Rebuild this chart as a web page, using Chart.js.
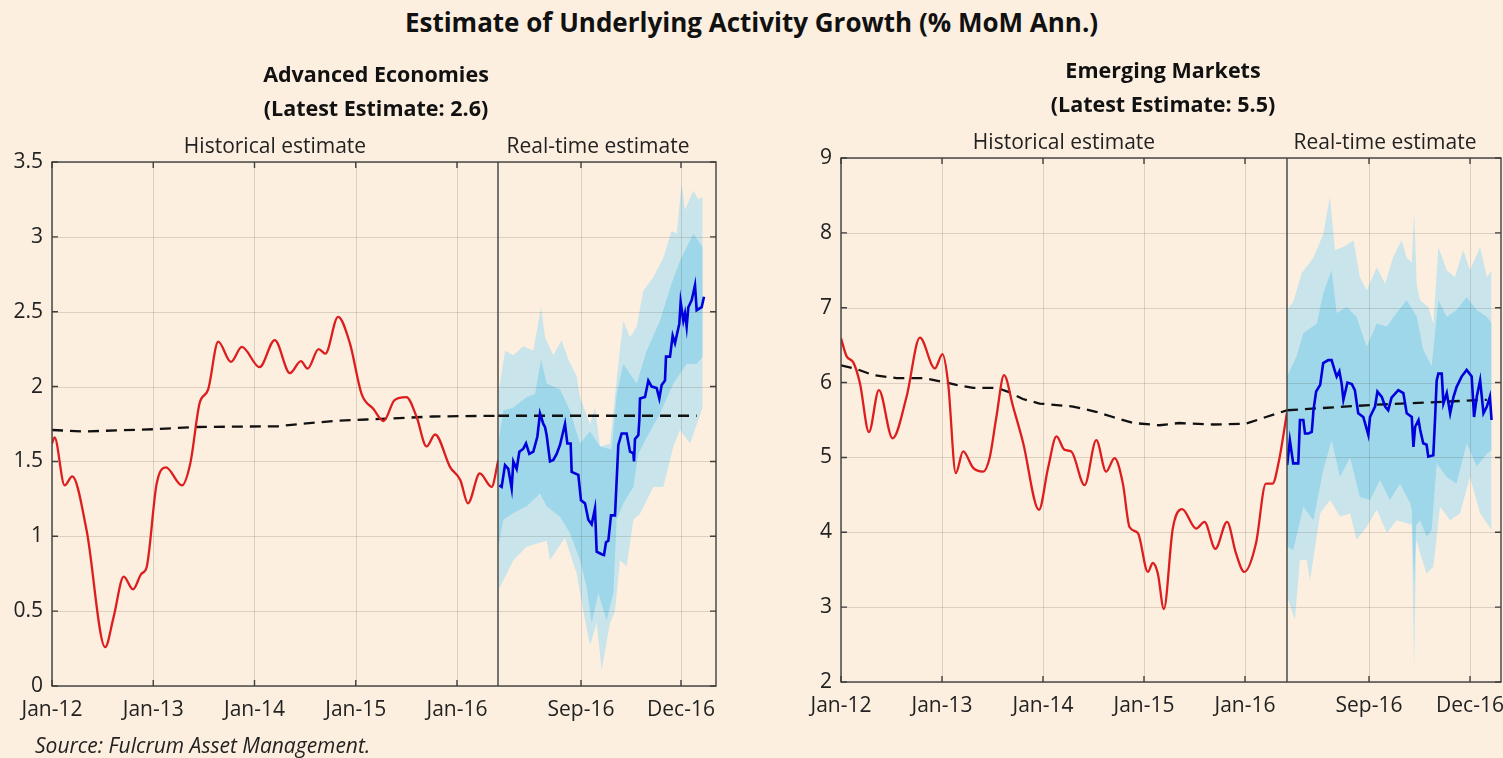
<!DOCTYPE html>
<html>
<head>
<meta charset="utf-8">
<title>Estimate of Underlying Activity Growth</title>
<script src="https://cdn.jsdelivr.net/npm/chart.js@4.4.1/dist/chart.umd.min.js"></script>
<style>
  html, body { margin: 0; padding: 0; background: #FCEFDF; }
  #page { position: relative; width: 1503px; height: 758px; overflow: hidden; background: #FCEFDF;
          font-family: "Open Sans", Lato, "Liberation Sans", sans-serif; color: #111; }
  #mainTitle { position: absolute; left: 0; top: 5px; width: 1503px; text-align: center;
               font-weight: bold; font-size: 26px; line-height: 34px; }
  #source { position: absolute; left: 35px; top: 731px; font-style: italic; font-size: 21px; line-height: 28px; color: #222; }
  canvas { position: absolute; top: 0; }
  #aeChart { left: 0; }
  #emChart { left: 750px; }
</style>
</head>
<body>
<div id="page">
  <div id="mainTitle">Estimate of Underlying Activity Growth (% MoM Ann.)</div>
  <canvas id="aeChart" width="750" height="758"></canvas>
  <canvas id="emChart" width="753" height="758"></canvas>
  <div id="source">Source: Fulcrum Asset Management.</div>
</div>
<script>
// ---------------------------------------------------------------------------
// Data. Historical x = months since Jan-2012; real-time x = months since Jan-2016.
// ---------------------------------------------------------------------------
const histTickMonths = [0, 12, 24, 36, 48];
const histTickLabels = ['Jan-12', 'Jan-13', 'Jan-14', 'Jan-15', 'Jan-16'];
const rtTickMonths = [8, 11];
const rtTickLabels = ['Sep-16', 'Dec-16'];

// Advanced Economies
const aeHist = [[0,1.62],[0.3,1.66],[1.5,1.34],[2.4,1.40],[4.1,1.04],[6.3,0.26],[7.3,0.46],[8.5,0.73],
  [9.6,0.645],[10.6,0.75],[11.2,0.79],[12.4,1.35],[13.5,1.46],[15.4,1.34],[16.4,1.49],[17.5,1.89],
  [18.5,1.98],[19.7,2.30],[21.2,2.165],[22.5,2.265],[24.6,2.13],[26.4,2.31],[28.2,2.09],[29.5,2.17],
  [30.3,2.12],[31.6,2.25],[32.4,2.22],[33.9,2.465],[35.3,2.29],[36.7,1.95],[38.1,1.85],[39.3,1.77],
  [40.6,1.91],[42.0,1.93],[43.2,1.80],[44.4,1.60],[45.4,1.68],[47.2,1.46],[48.4,1.375],[49.3,1.22],
  [50.7,1.42],[52.1,1.33],[52.9,1.51]];
const aeTrend = [[0,1.71],[3.7,1.70],[12,1.715],[17,1.73],[26.8,1.735],[29.4,1.75],[33.3,1.77],
  [37.3,1.78],[45.2,1.80],[52.9,1.805]];
const aeTrendRt = [[5.51,1.805],[11.47,1.805]];
const aeRealTime = [[5.55,1.34],[5.62,1.33],[5.72,1.475],[5.82,1.45],[5.92,1.32],[5.97,1.50],[6.07,1.45],
  [6.15,1.565],[6.27,1.585],[6.35,1.62],[6.45,1.55],[6.57,1.565],[6.69,1.665],[6.77,1.82],[6.87,1.75],
  [6.92,1.73],[6.97,1.675],[7.07,1.50],[7.17,1.51],[7.27,1.55],[7.37,1.61],[7.52,1.75],[7.59,1.62],
  [7.69,1.62],[7.72,1.43],[7.92,1.41],[8.00,1.24],[8.12,1.22],[8.22,1.11],[8.32,1.08],[8.42,1.186],
  [8.47,0.897],[8.62,0.88],[8.69,0.875],[8.75,0.96],[8.82,0.97],[8.90,1.14],[9.02,1.14],[9.12,1.61],
  [9.22,1.687],[9.37,1.687],[9.47,1.565],[9.57,1.555],[9.59,1.50],[9.62,1.65],[9.72,1.675],[9.75,1.775],
  [9.77,1.92],[9.92,1.93],[10.02,2.04],[10.12,2.00],[10.27,1.99],[10.35,1.92],[10.42,2.01],[10.52,2.04],
  [10.55,2.20],[10.67,2.20],[10.75,2.34],[10.82,2.29],[10.95,2.42],[10.99,2.565],[11.07,2.44],[11.12,2.49],
  [11.17,2.40],[11.22,2.53],[11.32,2.577],[11.42,2.677],[11.47,2.51],[11.62,2.53],[11.69,2.6]];
const aeOuterHi = [[5.52,1.95],[5.72,2.24],[5.97,2.21],[6.27,2.27],[6.57,2.24],[6.80,2.53],[6.92,2.33],
  [7.17,2.21],[7.42,2.31],[7.62,2.18],[7.87,2.07],[7.97,1.93],[8.27,1.75],[8.42,1.86],[8.57,1.60],
  [8.87,1.62],[9.12,2.15],[9.27,2.44],[9.47,2.33],[9.67,2.40],[9.87,2.64],[10.17,2.73],[10.47,2.86],
  [10.72,3.04],[10.87,3.02],[11.02,3.36],[11.12,3.18],[11.37,3.31],[11.52,3.25],[11.65,3.27]];
const aeInnerHi = [[5.52,1.62],[5.67,1.84],[5.97,1.86],[6.37,1.93],[6.62,1.95],[6.80,2.18],[6.97,2.02],
  [7.37,1.98],[7.67,1.84],[7.97,1.62],[8.27,1.70],[8.57,1.60],[8.92,1.58],[9.07,1.95],[9.27,2.15],
  [9.67,2.02],[9.97,2.24],[10.37,2.44],[10.72,2.69],[10.97,2.84],[11.37,3.02],[11.65,2.93]];
const aeInnerLo = [[5.52,0.93],[5.67,1.11],[5.97,1.155],[6.37,1.20],[6.77,1.286],[6.97,1.20],[7.37,1.13],
  [7.67,1.02],[7.97,0.84],[8.17,0.66],[8.32,0.42],[8.52,0.62],[8.77,0.44],[8.97,0.62],[9.07,1.11],
  [9.27,1.22],[9.57,1.33],[9.72,1.55],[9.97,1.66],[10.37,1.82],[10.77,2.02],[11.17,2.15],[11.47,2.15],[11.65,2.2]];
const aeOuterLo = [[5.52,0.64],[5.77,0.75],[5.97,0.84],[6.37,0.93],[6.97,0.97],[7.07,0.84],[7.52,0.99],
  [7.87,0.75],[8.07,0.50],[8.27,0.27],[8.47,0.42],[8.62,0.107],[8.87,0.42],[9.02,0.50],[9.17,0.84],
  [9.37,0.80],[9.57,1.11],[9.77,1.15],[10.17,1.33],[10.47,1.33],[10.77,1.60],[10.97,1.71],[11.27,1.62],[11.65,1.86]];

// Emerging Markets
const emHist = [[0,6.59],[0.67,6.35],[1.46,6.27],[2.25,5.99],[3.32,5.34],[4.5,5.90],[6.13,5.255],[7.79,5.81],
  [9.37,6.60],[11.15,6.19],[12.06,6.38],[12.73,5.99],[13.64,4.79],[14.51,5.08],[15.7,4.86],[16.88,4.81],
  [17.67,5.0],[18.46,5.54],[19.37,6.10],[20.44,5.68],[21.63,5.2],[23.52,4.30],[24.6,4.86],[25.6,5.28],
  [26.57,5.10],[27.36,5.08],[28.94,4.63],[30.33,5.23],[31.5,4.81],[32.5,4.99],[33.49,4.65],[34.28,4.07],
  [35.27,3.99],[36.46,3.47],[37.05,3.59],[37.64,3.45],[38.36,2.975],[39.42,4.05],[40.53,4.31],[42.19,4.05],
  [43.18,4.14],[44.48,3.78],[45.87,4.14],[46.92,3.72],[47.91,3.47],[49.3,3.85],[50.48,4.65],[51.27,4.65],
  [52.06,4.97],[52.99,5.6]];
const emTrend = [[0,6.23],[1.86,6.18],[3.83,6.10],[6.6,6.06],[9.76,6.06],[12.1,6.01],[13.7,5.97],[15.7,5.93],
  [18.5,5.93],[20.05,5.87],[21.6,5.78],[23.6,5.72],[27.56,5.68],[30.3,5.61],[32.3,5.54],[34.7,5.46],
  [37.84,5.43],[40.2,5.46],[44.2,5.44],[48.1,5.45],[50.5,5.54],[52.99,5.63]];
const emTrendRt = [[5.565,5.63],[8.03,5.70],[10.01,5.74],[11.5,5.77]];
const emRealTime = [[5.57,4.90],[5.65,5.23],[5.75,4.92],[5.90,4.92],[5.95,5.5],[6.05,5.5],[6.10,5.32],
  [6.20,5.32],[6.30,5.34],[6.33,5.5],[6.35,5.63],[6.43,5.88],[6.55,5.97],[6.64,6.26],[6.79,6.30],[6.89,6.30],
  [6.99,6.15],[7.04,6.08],[7.12,6.15],[7.19,5.98],[7.24,5.77],[7.36,6.0],[7.49,5.98],[7.58,5.9],[7.68,5.59],
  [7.83,5.54],[7.98,5.30],[8.03,5.54],[8.18,5.68],[8.25,5.88],[8.38,5.81],[8.48,5.68],[8.57,5.63],[8.67,5.8],
  [8.87,5.9],[9.02,5.86],[9.12,5.59],[9.27,5.54],[9.32,5.14],[9.37,5.41],[9.47,5.5],[9.52,5.37],[9.61,5.19],
  [9.71,5.17],[9.76,5.01],[9.91,5.03],[9.96,5.5],[10.01,6.03],[10.06,6.12],[10.16,6.12],[10.21,5.72],
  [10.31,5.86],[10.41,5.59],[10.51,5.81],[10.60,5.94],[10.75,6.08],[10.90,6.17],[11.05,6.08],[11.12,5.54],
  [11.20,5.81],[11.30,6.03],[11.40,5.59],[11.50,5.68],[11.59,5.81],[11.64,5.5]];
const emOuterHi = [[5.57,6.97],[5.75,7.08],[6.00,7.46],[6.35,7.67],[6.64,7.98],[6.84,8.48],[6.99,7.77],
  [7.24,7.81],[7.54,7.9],[7.73,7.41],[7.93,7.23],[8.23,7.54],[8.48,7.32],[8.72,7.68],[8.97,7.9],[9.12,7.67],
  [9.27,7.6],[9.34,8.29],[9.42,7.3],[9.52,7.1],[9.76,7.01],[9.91,6.79],[10.06,7.81],[10.31,7.5],[10.55,7.41],
  [10.80,7.77],[11.00,7.5],[11.30,7.81],[11.50,7.41],[11.64,7.5]];
const emInnerHi = [[5.57,6.08],[5.85,6.35],[6.05,6.66],[6.45,6.79],[6.64,7.19],[6.89,7.5],[7.04,6.93],
  [7.34,7.01],[7.63,6.88],[7.93,6.48],[8.23,6.79],[8.53,6.75],[8.82,6.93],[9.12,7.1],[9.42,6.88],[9.61,6.44],
  [9.86,6.22],[10.06,7.1],[10.31,6.88],[10.60,6.97],[10.90,7.14],[11.20,6.97],[11.50,6.88],[11.64,6.79]];
const emInnerLo = [[5.57,3.81],[5.75,3.76],[6.05,4.34],[6.35,4.16],[6.64,4.83],[6.89,5.23],[7.14,4.74],
  [7.44,5.0],[7.73,4.47],[8.03,4.43],[8.33,4.70],[8.62,4.43],[8.92,4.65],[9.22,4.39],[9.27,4.3],[9.34,3.27],
  [9.40,4.1],[9.52,4.16],[9.71,3.94],[9.86,4.03],[10.01,4.92],[10.31,4.74],[10.60,4.65],[10.90,5.19],
  [11.20,4.88],[11.50,5.05],[11.64,5.1]];
const emOuterLo = [[5.57,3.14],[5.80,2.83],[5.95,3.63],[6.15,3.63],[6.25,3.36],[6.55,4.25],[6.84,4.43],
  [7.14,4.21],[7.44,4.25],[7.63,3.9],[7.93,4.07],[8.23,4.3],[8.53,3.99],[8.82,4.16],[9.12,4.12],[9.27,4.1],
  [9.34,2.16],[9.40,3.9],[9.52,3.72],[9.71,3.45],[9.91,3.54],[10.11,4.34],[10.41,4.16],[10.70,4.25],
  [11.00,4.74],[11.30,4.25],[11.50,4.12],[11.64,4.03]];

// ---------------------------------------------------------------------------
// Styling
// ---------------------------------------------------------------------------
const FONT = '"Open Sans", Lato, "Liberation Sans", sans-serif';
const RED = '#DC1E1E';
const BLUE = '#0000DD';
const OUTER_BAND = '#C9E5EB';
const INNER_BAND = '#9DD7E9';
const GRID = 'rgba(70,60,50,0.17)';
const FRAME = '#3f3f3f';

const pts = arr => arr.map(([x, y]) => ({x, y}));

// Grid drawn after the band fills so the lines stay visible through the shading;
// frame, divider and inward ticks drawn after the series.
const panelDecor = {
  id: 'panelDecor',
  beforeDatasetsDraw(chart) {
    const {ctx, chartArea: a, scales} = chart;
    ctx.save();
    ctx.strokeStyle = GRID;
    ctx.lineWidth = 1;
    ctx.beginPath();
    for (const id of ['xh', 'xr']) {
      const s = scales[id];
      for (const t of s.ticks) {
        const x = Math.round(s.getPixelForValue(t.value)) + 0.5;
        ctx.moveTo(x, a.top); ctx.lineTo(x, a.bottom);
      }
    }
    const y = scales.y;
    for (const t of y.ticks) {
      const py = Math.round(y.getPixelForValue(t.value)) + 0.5;
      ctx.moveTo(a.left, py); ctx.lineTo(a.right, py);
    }
    ctx.stroke();
    ctx.restore();
  },
  afterDatasetsDraw(chart) {
    const {ctx, chartArea: a, scales} = chart;
    const tl = 6;
    ctx.save();
    ctx.strokeStyle = FRAME;
    ctx.lineWidth = 1.4;
    ctx.strokeRect(a.left, a.top, a.right - a.left, a.bottom - a.top);
    ctx.beginPath();
    const divX = scales.xr.left;
    ctx.moveTo(divX, a.top); ctx.lineTo(divX, a.bottom);
    for (const id of ['xh', 'xr']) {
      const s = scales[id];
      for (const t of s.ticks) {
        const x = s.getPixelForValue(t.value);
        ctx.moveTo(x, a.bottom); ctx.lineTo(x, a.bottom - tl);
        ctx.moveTo(x, a.top); ctx.lineTo(x, a.top + tl);
      }
    }
    const y = scales.y;
    for (const t of y.ticks) {
      const py = y.getPixelForValue(t.value);
      ctx.moveTo(a.left, py); ctx.lineTo(a.left + tl, py);
      ctx.moveTo(a.right, py); ctx.lineTo(a.right - tl, py);
    }
    ctx.stroke();
    ctx.restore();
  },
  afterDraw(chart, args, opts) {
    const {ctx, chartArea: a, scales} = chart;
    ctx.save();
    ctx.fillStyle = '#111';
    ctx.textAlign = 'center';
    ctx.textBaseline = 'middle';
    const cx = (a.left + a.right) / 2 - 8;
    ctx.font = 'bold 21.5px ' + FONT;
    ctx.fillText(opts.heading, cx, a.top - 86);
    ctx.fillText(opts.latest, cx, a.top - 52);
    ctx.font = '21px ' + FONT;
    ctx.fillStyle = '#222';
    ctx.fillText('Historical estimate', (scales.xh.left + scales.xh.right) / 2, a.top - 15);
    ctx.fillText('Real-time estimate', (scales.xr.left + scales.xr.right) / 2 - 9, a.top - 15);
    ctx.restore();
  }
};

function fixBox(h) {
  return s => { s.height = h; s.paddingLeft = 0; s.paddingRight = 0; };
}

function makePanel(canvasId, cfg) {
  const tickFont = {family: FONT, size: 21};
  const datasets = [
    {data: pts(cfg.hist), xAxisID: 'xh', borderColor: RED, borderWidth: 2.3, order: 1,
     cubicInterpolationMode: 'monotone', fill: false},
    {data: pts(cfg.trend), xAxisID: 'xh', borderColor: '#111', borderWidth: 2.3, borderDash: [11, 7], order: 2, fill: false},
    {data: pts(cfg.trendRt), xAxisID: 'xr', borderColor: '#111', borderWidth: 2.3, borderDash: [11, 7], order: 2, fill: false},
    {data: pts(cfg.realTime), xAxisID: 'xr', borderColor: BLUE, borderWidth: 2.6, order: 0, fill: false},
    {data: pts(cfg.outerHi), xAxisID: 'xr', borderWidth: 0, order: 10, fill: false},
    {data: pts(cfg.outerLo), xAxisID: 'xr', borderWidth: 0, order: 10, fill: '-1', backgroundColor: OUTER_BAND},
    {data: pts(cfg.innerHi), xAxisID: 'xr', borderWidth: 0, order: 5, fill: false},
    {data: pts(cfg.innerLo), xAxisID: 'xr', borderWidth: 0, order: 5, fill: '-1', backgroundColor: INNER_BAND}
  ];
  return new Chart(document.getElementById(canvasId), {
    type: 'line',
    data: {datasets},
    options: {
      responsive: false,
      animation: false,
      devicePixelRatio: 1,
      events: [],
      layout: {padding: {top: cfg.top, right: cfg.padRight, bottom: 0, left: 0}},
      elements: {point: {radius: 0}, line: {tension: 0}},
      plugins: {
        legend: {display: false},
        tooltip: {enabled: false},
        filler: {drawTime: 'beforeDatasetsDraw'},
        panelDecor: {heading: cfg.heading, latest: cfg.latest}
      },
      scales: {
        xh: {
          type: 'linear', position: 'bottom', stack: 'time', stackWeight: cfg.histWidth,
          min: 0, max: cfg.histMax,
          afterBuildTicks: s => { s.ticks = histTickMonths.map(v => ({value: v})); },
          afterFit: fixBox(cfg.axisHeight),
          grid: {display: false, drawTicks: false},
          border: {display: false},
          ticks: {font: tickFont, color: '#222', padding: 11, autoSkip: false, maxRotation: 0,
                  callback: (v, i) => histTickLabels[i]}
        },
        xr: {
          type: 'linear', position: 'bottom', stack: 'time', stackWeight: cfg.rtWidth,
          min: cfg.rtMin, max: cfg.rtMax,
          afterBuildTicks: s => { s.ticks = rtTickMonths.map(v => ({value: v})); },
          afterFit: fixBox(cfg.axisHeight),
          grid: {display: false, drawTicks: false},
          border: {display: false},
          ticks: {font: tickFont, color: '#222', padding: 11, autoSkip: false, maxRotation: 0,
                  callback: (v, i) => rtTickLabels[i]}
        },
        y: {
          type: 'linear', position: 'left',
          min: cfg.yMin, max: cfg.yMax,
          afterFit: s => { s.width = cfg.axisWidth; s.paddingTop = 0; s.paddingBottom = 0; },
          grid: {display: false, drawTicks: false},
          border: {display: false},
          ticks: {font: tickFont, color: '#222', padding: 9, stepSize: cfg.yStep,
                  callback: v => String(Math.round(v * 100) / 100)}
        }
      }
    },
    plugins: [panelDecor]
  });
}

makePanel('aeChart', {
  heading: 'Advanced Economies', latest: '(Latest Estimate: 2.6)',
  hist: aeHist, trend: aeTrend, trendRt: aeTrendRt, realTime: aeRealTime,
  outerHi: aeOuterHi, outerLo: aeOuterLo, innerHi: aeInnerHi, innerLo: aeInnerLo,
  top: 162, padRight: 34, axisWidth: 52, axisHeight: 72,
  histWidth: 446, rtWidth: 218, histMax: 52.86, rtMin: 5.51, rtMax: 12.05,
  yMin: 0, yMax: 3.5, yStep: 0.5
});

makePanel('emChart', {
  heading: 'Emerging Markets', latest: '(Latest Estimate: 5.5)',
  hist: emHist, trend: emTrend, trendRt: emTrendRt, realTime: emRealTime,
  outerHi: emOuterHi, outerLo: emOuterLo, innerHi: emInnerHi, innerLo: emInnerLo,
  top: 158, padRight: 2, axisWidth: 91, axisHeight: 76,
  histWidth: 446, rtWidth: 214, histMax: 52.99, rtMin: 5.565, rtMax: 11.92,
  yMin: 2, yMax: 9, yStep: 1
});
</script>
</body>
</html>
